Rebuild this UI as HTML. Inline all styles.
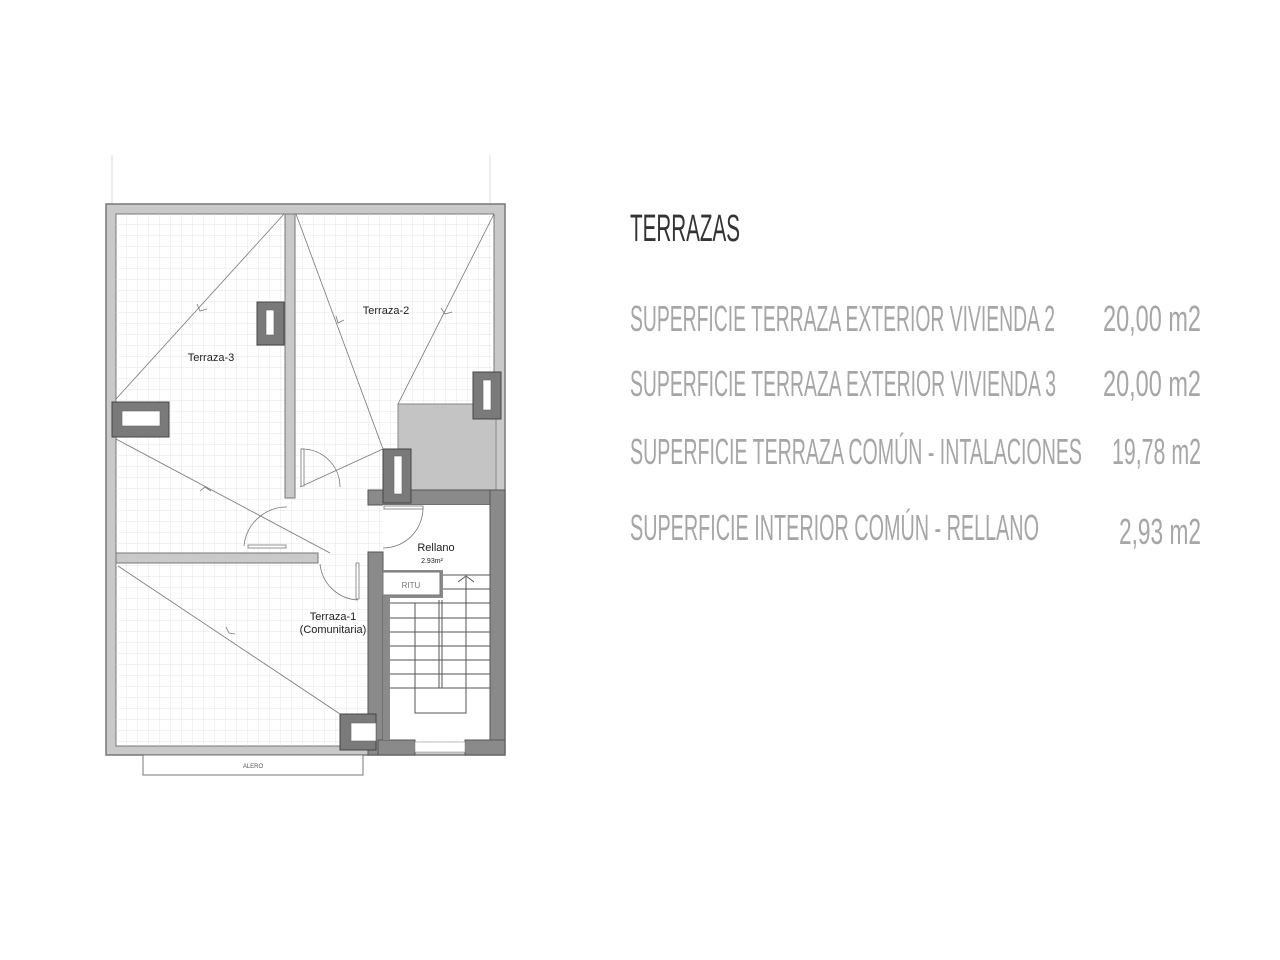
<!DOCTYPE html>
<html><head><meta charset="utf-8"><style>
html,body{margin:0;padding:0;background:#fff;}
svg{display:block}
.t{font-family:"Liberation Sans Narrow","Liberation Sans",sans-serif;fill:#a6a6a6;}
.p{font-family:"Liberation Sans",sans-serif;fill:#222;}
</style></head><body>
<svg width="1280" height="960" viewBox="0 0 1280 960" xmlns="http://www.w3.org/2000/svg">
<defs>
<pattern id="g" width="11" height="11" patternUnits="userSpaceOnUse" x="116" y="214">
<path d="M11 0V11H0" fill="none" stroke="#e4e4e4" stroke-width="1"/>
</pattern>
</defs>
<rect width="1280" height="960" fill="#fff"/>
<!-- top thin lines -->
<line x1="112" y1="155" x2="112" y2="204" stroke="#ddd"/>
<line x1="490" y1="155" x2="490" y2="204" stroke="#ddd"/>
<!-- outer walls -->
<rect x="106" y="204" width="399" height="551" fill="#c9c9c9" stroke="#777" stroke-width="1.5"/>
<rect x="116" y="214" width="378" height="532" fill="#fff" stroke="#777"/>
<rect x="116" y="214" width="378" height="532" fill="url(#g)"/>
<!-- vertical wall -->
<rect x="285" y="214" width="10" height="284" fill="#c9c9c9" stroke="#777"/>
<!-- horizontal wall -->
<rect x="116" y="553" width="202" height="10" fill="#c9c9c9" stroke="#777"/>
<!-- gray shaft -->
<rect x="398" y="404" width="98" height="86" fill="#c4c4c4" stroke="#888"/>
<!-- stair block -->
<rect x="368" y="490" width="137" height="15" fill="#8a8a8a" stroke="#555"/>
<rect x="383" y="505" width="107" height="235" fill="#fff"/>
<rect x="490" y="490" width="15" height="265" fill="#8a8a8a" stroke="#555"/>
<rect x="368" y="552" width="15" height="203" fill="#8a8a8a" stroke="#555"/>
<rect x="378" y="740" width="37" height="15" fill="#8a8a8a" stroke="#555"/>
<rect x="465" y="740" width="40" height="15" fill="#8a8a8a" stroke="#555"/>
<rect x="415" y="742" width="50" height="10" fill="#fff" stroke="#999" stroke-width="0.6"/>
<rect x="383" y="570" width="60" height="28" fill="#8a8a8a"/>
<rect x="383" y="572" width="57" height="23" fill="#fff" stroke="#777"/>
<rect x="383" y="598" width="7" height="142" fill="#8a8a8a"/>
<text x="411" y="588" font-family="Liberation Sans Narrow,Liberation Sans,sans-serif" font-size="8" fill="#777" text-anchor="middle">RITU</text>
<!-- stairs -->
<g stroke="#555" stroke-width="1" fill="none">
<line x1="443" y1="575" x2="490" y2="575"/>
<line x1="443" y1="589" x2="490" y2="589"/>
<line x1="390" y1="603" x2="490" y2="603"/>
<line x1="390" y1="618" x2="490" y2="618"/>
<line x1="390" y1="632" x2="490" y2="632"/>
<line x1="390" y1="646" x2="490" y2="646"/>
<line x1="390" y1="660" x2="490" y2="660"/>
<line x1="390" y1="674" x2="490" y2="674"/>
<line x1="390" y1="688" x2="490" y2="688"/>
<rect x="415" y="603" width="51" height="110"/>
<line x1="439" y1="600" x2="439" y2="688"/>
<line x1="442" y1="600" x2="442" y2="688"/>
<line x1="466" y1="577" x2="466" y2="713"/>
<polyline points="458,582 466,576 474,582"/>
</g>
<!-- cabinets -->
<g fill="#7a7a7a" stroke="#444">
<rect x="257" y="302" width="27" height="43"/>
<rect x="112" y="402" width="57" height="35"/>
<rect x="473" y="372" width="28" height="47"/>
<rect x="383" y="449" width="28" height="54"/>
<rect x="340" y="714" width="36" height="36"/>
</g>
<g fill="#fff" stroke="#666" stroke-width="0.6">
<rect x="266" y="310" width="8" height="25"/>
<rect x="122" y="411" width="38" height="15"/>
<rect x="483" y="380" width="8" height="30"/>
<rect x="394" y="456" width="8" height="38"/>
<rect x="351" y="723" width="25" height="18"/>
</g>
<!-- diagonals -->
<g stroke="#777" stroke-width="0.8" fill="none">
<line x1="116" y1="399" x2="284" y2="214"/>
<line x1="116" y1="439" x2="330" y2="553"/>
<line x1="296" y1="214" x2="383" y2="449"/>
<line x1="494" y1="214" x2="398" y2="404"/>
<line x1="383" y1="449" x2="300" y2="487"/>
<line x1="118" y1="566" x2="340" y2="714"/>
<polyline points="197,304 200,311 207,309"/>
<polyline points="200,491 205,487 211,491"/>
<polyline points="336,316 338,323 344,320"/>
<polyline points="441,308 445,314 452,312"/>
<polyline points="226,627 229,633 235,634"/>
</g>
<!-- doors -->
<g stroke="#777" stroke-width="0.8" fill="none">
<path d="M302 449 A38 38 0 0 1 340 487"/>
<rect x="301" y="449" width="3" height="37" fill="#fff"/>
<path d="M287 507 A43 43 0 0 0 244 546"/>
<rect x="248" y="545" width="38" height="3" fill="#fff"/>
<path d="M320 564 A40 40 0 0 0 358 600"/>
<rect x="356" y="563" width="3" height="36" fill="#fff"/>
<path d="M423 507 A40 40 0 0 1 383 548"/>
<rect x="384" y="506" width="39" height="3" fill="#fff"/>
</g>
<!-- alero -->
<rect x="143" y="755" width="220" height="20" fill="#fff" stroke="#777"/>
<text x="253" y="768" font-family="Liberation Sans Narrow,Liberation Sans,sans-serif" font-size="6" fill="#555" text-anchor="middle">ALERO</text>
<!-- labels -->
<text class="p" x="211" y="361" font-size="11" text-anchor="middle">Terraza-3</text>
<text class="p" x="386" y="314" font-size="11" text-anchor="middle">Terraza-2</text>
<text class="p" x="333" y="620" font-size="11" text-anchor="middle">Terraza-1</text>
<text class="p" x="333" y="633" font-size="11" text-anchor="middle">(Comunitaria)</text>
<text class="p" x="436" y="551" font-size="11" text-anchor="middle">Rellano</text>
<text class="p" x="432" y="563" font-size="7" text-anchor="middle">2.93m²</text>
<!-- right text -->
<text class="t" x="630" y="241" font-size="38" fill="#333" style="fill:#333" textLength="110" lengthAdjust="spacingAndGlyphs">TERRAZAS</text>
<text class="t" x="630" y="331" font-size="36" textLength="425" lengthAdjust="spacingAndGlyphs">SUPERFICIE TERRAZA EXTERIOR VIVIENDA 2</text>
<text class="t" x="1103" y="331" font-size="36" textLength="98" lengthAdjust="spacingAndGlyphs">20,00 m2</text>
<text class="t" x="630" y="396" font-size="36" textLength="426" lengthAdjust="spacingAndGlyphs">SUPERFICIE TERRAZA EXTERIOR VIVIENDA 3</text>
<text class="t" x="1103" y="396" font-size="36" textLength="98" lengthAdjust="spacingAndGlyphs">20,00 m2</text>
<text class="t" x="630" y="464" font-size="36" textLength="452" lengthAdjust="spacingAndGlyphs">SUPERFICIE TERRAZA COMÚN - INTALACIONES</text>
<text class="t" x="1112" y="464" font-size="36" textLength="89" lengthAdjust="spacingAndGlyphs">19,78 m2</text>
<text class="t" x="630" y="540" font-size="36" textLength="409" lengthAdjust="spacingAndGlyphs">SUPERFICIE INTERIOR COMÚN -  RELLANO</text>
<text class="t" x="1119" y="544" font-size="36" textLength="82" lengthAdjust="spacingAndGlyphs">2,93 m2</text>
</svg>
</body></html>
